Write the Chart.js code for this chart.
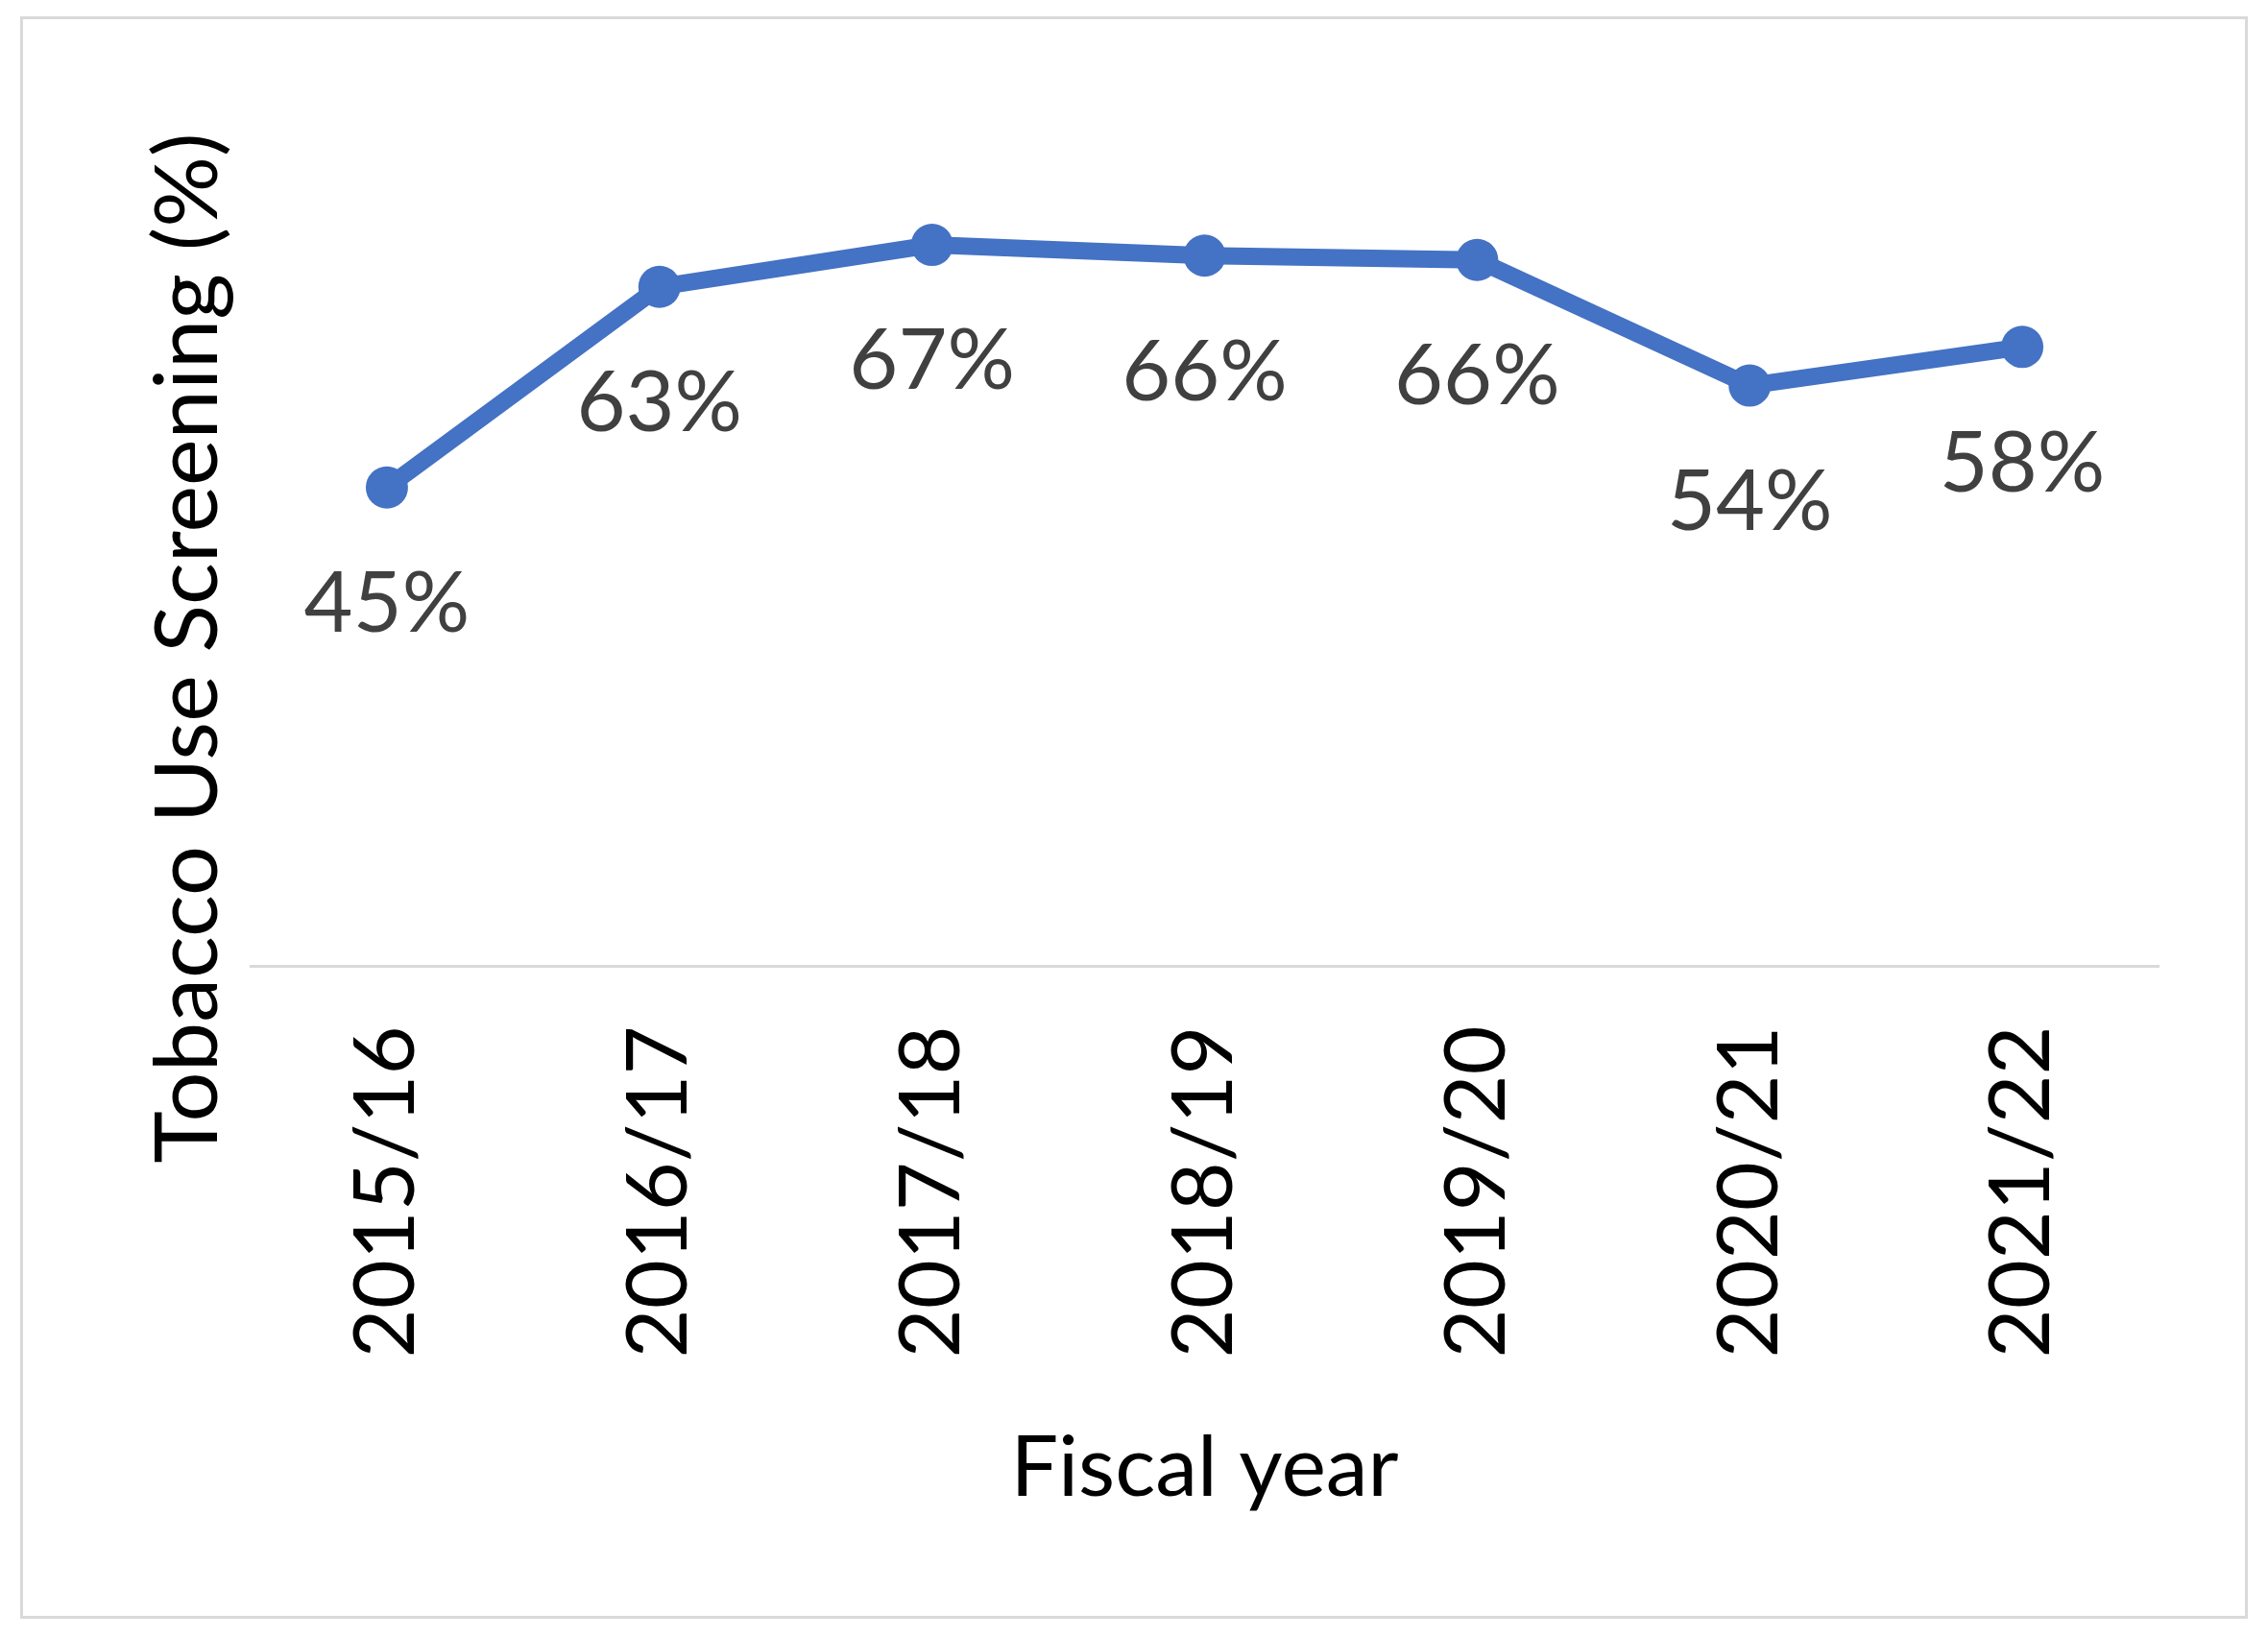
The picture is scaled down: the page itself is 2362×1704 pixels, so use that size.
<!DOCTYPE html>
<html>
<head>
<meta charset="utf-8">
<script src="https://cdn.jsdelivr.net/npm/chart.js@4"></script>
<style>
  html, body { margin: 0; padding: 0; background: #ffffff; }
  #frame {
    position: absolute; left: 21px; top: 17px;
    width: 2314px; height: 1663px;
    border: 3px solid #d9d9d9;
  }
  #wrap { position: absolute; left: 0; top: 0; width: 2362px; height: 1704px; }
</style>
</head>
<body>
<div id="frame"></div>
<div id="wrap"><canvas id="screeningChart"></canvas></div>
<script>
// Dane wykresu
const fiscalYears = ["2015/16", "2016/17", "2017/18", "2018/19", "2019/20", "2020/21", "2021/22"];
const screeningValues = [44.6, 63.3, 67.2, 66.2, 65.8, 54.1, 57.7];
const screeningLabels = ["45%", "63%", "67%", "66%", "66%", "54%", "58%"];
const yAxisTitle = "Tobacco Use Screening (%)";
const xAxisTitle = "Fiscal year";

const FONT = "Lato, 'Open Sans', sans-serif";

// Etykiety danych pod punktami
const dataLabelsPlugin = {
  id: "dataLabels",
  afterDatasetsDraw(chart) {
    const ctx = chart.ctx;
    const meta = chart.getDatasetMeta(0);
    ctx.save();
    ctx.font = "88px " + FONT;
    ctx.fillStyle = "#404040";
    ctx.textAlign = "center";
    ctx.textBaseline = "middle";
    meta.data.forEach((pt, i) => {
      ctx.fillText(screeningLabels[i], pt.x, pt.y + 122);
    });
    ctx.restore();
  }
};

// Tytuł osi Y (pionowy)
const yTitlePlugin = {
  id: "yTitle",
  afterDraw(chart) {
    const ctx = chart.ctx;
    ctx.save();
    ctx.translate(196, 675);
    ctx.rotate(-Math.PI / 2);
    ctx.font = "92px " + FONT;
    ctx.fillStyle = "#000000";
    ctx.textAlign = "center";
    ctx.textBaseline = "middle";
    ctx.fillText(yAxisTitle, 0, 0);
    ctx.restore();
  }
};

const ctx = document.getElementById("screeningChart").getContext("2d");
new Chart(ctx, {
  type: "line",
  data: {
    labels: fiscalYears,
    datasets: [{
      data: screeningValues,
      borderColor: "#4472c4",
      backgroundColor: "#4472c4",
      borderWidth: 18,
      pointRadius: 22,
      pointBorderWidth: 0,
      pointBackgroundColor: "#4472c4",
      tension: 0,
      fill: false
    }]
  },
  options: {
    responsive: true,
    maintainAspectRatio: false,
    animation: false,
    layout: {
      padding: { left: 261, right: 114, top: 112, bottom: 122 }
    },
    plugins: {
      legend: { display: false },
      tooltip: { enabled: false }
    },
    scales: {
      x: {
        offset: true,
        grid: { display: false, drawTicks: false },
        border: { display: true, color: "#d9d9d9", width: 3 },
        ticks: {
          color: "#000000",
          font: { family: FONT, size: 88 },
          minRotation: 90,
          maxRotation: 90,
          padding: 62,
          autoSkip: false
        },
        title: {
          display: true,
          text: xAxisTitle,
          color: "#000000",
          font: { family: FONT, size: 88 },
          padding: { top: 0, bottom: 0 }
        }
      },
      y: {
        display: false,
        min: 0,
        max: 80
      }
    }
  },
  plugins: [dataLabelsPlugin, yTitlePlugin]
});
</script>
</body>
</html>
